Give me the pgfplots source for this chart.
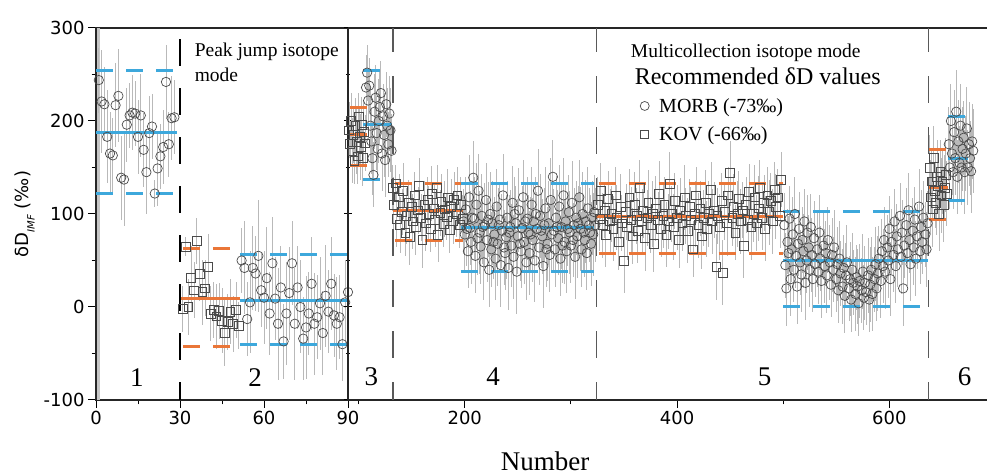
\documentclass[border=0pt]{standalone}
\usepackage{pgfplots}
\pgfplotsset{compat=1.18}
\usepackage{pgfplotstable}
\usepackage{fontspec}
\setmainfont{Liberation Serif}
\newfontfamily\tickfont{DejaVu Sans}
\definecolor{mblue}{HTML}{3DA8DC}
\definecolor{korange}{HTML}{EA7638}
\definecolor{mkgray}{HTML}{4A4A4A}

% ---------- left panel (0-90) ----------
\pgfplotstableread{
x y e
1 244 35
2 221 55
3 218 40
4 183 50
5 165 45
6 163 40
7 217 45
8 227 50
9 139 45
10 137 50
11 196 40
12 206 35
13 209 40
14 208 35
15 183 40
16 206 45
17 169 40
18 145 45
19 187 40
20 194 35
21 122 15
22 149 40
23 162 35
24 172 40
25 242 40
26 175 35
27 203 45
28 204 40
52 50 35
53 42 50
54 -13 40
55 5 55
56 42 45
57 36 40
58 55 60
59 18 40
60 10 50
61 31 55
62 -7 45
63 47 50
64 9 45
65 -18 60
66 21 45
67 -37 40
68 -7 55
69 15 50
70 47 45
71 -18 60
72 21 45
73 0 50
74 -34 45
75 -22 55
76 -7 45
77 25 50
78 -18 55
79 -11 45
80 4 50
81 -28 45
82 12 55
83 -5 45
84 25 50
85 -9 45
86 -18 50
87 -11 45
88 -40 40
89 5 45
90 16 35
}\morbL
\pgfplotstableread{
x y e
31 -2 25
32 65 10
33 0 30
34 31 35
35 18 30
36 71 25
37 36 30
38 16 35
39 20 30
40 43 35
41 -7 30
42 -3 30
43 -10 35
44 -4 30
45 -15 35
46 -28 35
47 -16 30
48 -5 35
49 -18 30
50 -3 30
51 -20 25
}\kovL

% ---------- right panel (90-692) ----------
\pgfplotstableread{
x y e
107 236 35
108 252 30
109 222 35
110 238 30
111 195 40
112 178 35
113 160 40
114 142 35
115 210 40
116 225 35
117 187 40
118 170 35
119 200 45
120 215 40
121 230 35
122 165 40
123 205 35
124 185 45
125 158 40
126 218 35
127 195 40
128 175 35
129 208 40
130 190 45
131 168 40
199 92 35
200 78 40
201 105 35
202 84 40
203 60 40
204 118 45
205 85 40
206 70 45
207 96 40
208 139 40
209 95 45
210 55 40
211 110 45
212 74 40
213 125 40
214 80 45
215 65 40
216 98 45
217 86 40
218 48 40
219 88 45
220 115 40
221 72 45
222 94 40
223 40 40
224 100 45
225 62 40
226 90 45
227 70 40
228 78 40
229 52 45
230 108 40
231 68 45
232 88 40
233 94 40
234 45 45
235 82 40
236 120 45
237 64 40
238 58 40
239 75 45
240 96 40
241 42 45
242 80 40
243 86 40
244 66 45
245 112 40
246 54 45
247 100 40
248 90 40
249 38 45
250 76 40
251 104 45
252 68 40
253 60 40
254 85 45
255 118 40
256 70 45
257 92 40
258 48 40
259 95 45
260 80 40
261 58 45
262 78 40
263 110 40
264 72 45
265 92 40
266 50 45
267 100 40
268 84 40
269 125 45
270 64 40
271 98 45
272 82 40
273 76 40
274 44 45
275 88 40
276 106 45
277 62 40
278 68 40
279 90 45
280 56 40
281 115 45
282 78 40
283 140 40
284 82 45
285 62 40
286 96 45
287 86 40
288 74 40
289 108 45
290 52 40
291 86 45
292 66 40
293 120 40
294 70 45
295 92 40
296 60 45
297 84 40
298 102 40
299 80 45
300 66 40
301 112 45
302 72 40
303 88 40
304 54 45
305 96 40
306 76 45
307 90 40
308 118 40
309 84 45
310 62 40
311 100 45
312 80 40
313 72 40
314 92 45
315 58 40
316 106 45
317 88 40
318 80 40
319 68 45
320 96 40
321 78 45
322 102 40
323 88 40
501 88 35
502 45 35
503 20 40
504 70 35
505 58 40
506 95 35
507 30 40
508 62 35
509 78 40
510 40 35
511 100 40
512 55 35
513 22 40
514 68 35
515 84 40
516 48 35
517 35 40
518 72 35
519 60 40
520 92 35
521 26 40
522 50 35
523 80 40
524 64 35
525 40 40
526 86 35
527 56 40
528 30 35
529 74 40
530 46 35
532 62 40
533 38 35
534 80 40
535 52 35
536 28 40
538 66 35
539 44 40
540 58 35
541 34 40
542 72 35
544 48 40
545 24 35
546 56 40
547 40 35
548 64 40
550 30 35
551 46 40
552 18 35
553 52 40
554 36 35
556 22 40
557 42 35
558 12 40
559 34 35
560 48 40
562 20 35
563 30 40
564 8 35
565 40 40
566 26 35
568 14 40
569 32 35
570 22 40
571 4 35
572 28 40
574 18 35
575 38 40
576 10 35
577 26 40
578 16 35
580 34 40
581 8 35
582 24 40
583 40 35
584 14 40
586 30 35
587 46 40
588 20 35
589 36 40
590 52 35
592 28 40
593 60 35
594 44 40
595 72 35
596 38 40
598 64 35
599 50 40
600 84 35
601 30 40
602 70 35
604 56 40
605 92 35
606 44 40
607 76 35
608 62 40
610 98 35
611 54 40
612 80 35
613 20 40
614 66 35
616 88 40
617 58 35
618 104 40
619 72 35
620 46 40
622 82 35
623 64 40
624 94 35
625 52 40
626 76 35
628 108 40
629 60 35
630 86 40
631 70 35
632 96 40
634 78 35
635 62 40
636 90 35
656 175 40
657 150 45
658 200 40
659 165 45
660 145 40
661 188 45
662 160 40
663 210 45
664 140 40
665 178 45
666 155 40
667 195 45
668 150 40
669 170 45
670 182 40
671 145 45
672 165 40
673 192 45
674 150 40
675 175 45
676 160 40
677 146 45
678 178 40
679 168 45
}\morbR
\pgfplotstableread{
x y e
91 190 30
92 175 25
93 200 30
94 168 35
95 185 30
96 157 25
97 195 30
98 178 35
99 162 30
100 205 25
101 183 30
102 172 35
103 196 30
104 160 30
105 188 35
106 176 30
132 128 25
133 110 30
135 133 20
136 95 30
138 118 25
139 88 30
141 102 25
142 125 30
144 80 25
145 98 30
147 112 25
148 75 30
150 108 25
151 92 30
153 120 25
154 86 30
156 104 25
157 130 30
159 96 25
160 72 30
162 110 25
163 90 30
165 115 25
166 100 30
168 84 25
169 122 30
171 106 25
172 94 30
174 128 25
175 78 30
177 101 25
178 113 30
180 89 25
181 105 30
183 97 25
184 118 30
186 83 25
187 108 30
189 93 25
190 115 30
192 100 25
193 120 30
195 88 25
196 110 30
198 95 25
325 110 30
327 95 35
328 125 30
330 88 35
332 104 30
333 78 35
335 116 30
337 92 35
338 100 30
340 84 35
342 120 30
343 96 35
345 70 30
347 108 35
348 90 30
350 50 35
352 102 30
353 86 35
355 118 30
357 94 35
358 76 30
360 110 35
362 98 30
363 82 35
365 128 30
367 92 35
368 104 30
370 74 35
372 96 30
373 112 35
375 88 30
377 100 35
378 68 30
380 106 35
382 94 30
383 122 35
385 84 30
387 98 35
388 110 30
390 78 35
392 92 30
393 132 35
395 100 30
397 86 35
398 114 30
400 96 35
402 72 30
403 104 35
405 90 30
407 118 35
408 98 30
410 82 35
412 108 30
413 94 35
415 62 30
417 100 35
418 120 30
420 88 35
422 106 30
423 76 35
425 96 30
427 112 35
428 84 30
430 100 35
432 126 30
433 92 35
435 104 30
437 43 35
438 98 30
440 86 35
442 114 30
443 37 35
445 102 30
447 90 35
448 120 30
450 144 35
452 96 30
453 108 35
455 80 30
457 100 35
458 116 30
460 92 35
462 104 30
463 66 35
465 110 30
467 94 35
468 124 30
470 86 35
472 100 30
473 118 35
475 90 30
477 106 35
478 128 30
480 96 35
482 112 30
483 84 35
485 120 30
487 102 35
488 114 30
490 92 35
492 126 30
493 108 35
495 118 30
497 98 35
498 137 30
638 150 35
639 118 40
640 135 35
641 105 40
642 160 35
643 125 40
644 112 35
645 140 40
646 130 35
647 100 40
648 145 35
649 120 40
650 135 35
651 110 40
652 128 35
653 142 40
654 122 35
}\kovR

\pgfplotsset{
  errstyle/.style={forget plot,
    error bars/y dir=both, error bars/y explicit, error bars/error mark=none,
    error bars/error bar style={gray!55, line width=0.9pt}},
  morb/.style={only marks, mark=o, mark size=4.7pt,
    mark options={draw=mkgray, line width=0.7pt}, errstyle},
  kov/.style={only marks, mark=square, mark size=4.4pt,
    mark options={draw=mkgray, line width=0.7pt}, errstyle},
  bl/.style={mblue, line width=3pt, forget plot},
  bld/.style={mblue, line width=3pt, dash pattern=on 17pt off 13pt, forget plot},
  ol/.style={korange, line width=3pt, forget plot},
  old/.style={korange, line width=3pt, dash pattern=on 17pt off 13pt, forget plot},
  common/.style={scale only axis, anchor=south west, height=372pt,
    ymin=-100, ymax=300,
    ytick={-100,0,100,200,300}, minor ytick={-50,50,150,250},
    major tick length=8pt, minor tick length=4.5pt,
    every tick/.style={black, line width=1pt},
    axis line style={black!85, line width=1.3pt},
    tick label style={font=\tickfont\fontsize{18}{18}\selectfont},
    /pgf/number format/assume math mode=true},
}

\begin{document}
\begin{tikzpicture}
\useasboundingbox (0,0) rectangle (987pt,476pt);
\begin{axis}[common,
  at={(96pt,76pt)}, width=252pt,
  xmin=0, xmax=90,
  xtick={0,30,60,90}, minor xtick={15,45,75},
  xtick pos=left, ytick pos=left, tick align=outside,
  ylabel={\tickfont\fontsize{18}{20}\selectfont δD\raisebox{-0.35em}{\fontsize{10}{10}\selectfont\itshape IMF} (‰)},
  ylabel style={yshift=2pt},
]
\draw[gray!45, line width=3pt] (axis cs:0.9,-100) -- (axis cs:0.9,300);
\addplot[morb] table[x=x, y=y, y error=e] {\morbL};
\addplot[kov] table[x=x, y=y, y error=e] {\kovL};
% region 1 MORB
\addplot[bl] coordinates {(0,188) (29,188)};
\addplot[bld] coordinates {(0,254) (29,254)};
\addplot[bld] coordinates {(0,122) (29,122)};
% region 2 KOV
\addplot[ol] coordinates {(30,9.5) (51.4,9.5)};
\addplot[old] coordinates {(31,63) (51.4,63)};
\addplot[old] coordinates {(31,-42.5) (51.4,-42.5)};
% region 2 MORB
\addplot[bl] coordinates {(51.4,7.5) (90,7.5)};
\addplot[bld] coordinates {(51.4,56) (90,56)};
\addplot[bld] coordinates {(51.4,-40) (90,-40)};
\draw[black, line width=1.3pt, dash pattern=on 27pt off 22pt, dash phase=9pt] (axis cs:30,-100) -- (axis cs:30,300);
\node[anchor=north west, inner sep=0pt, align=left, font=\fontsize{19.5}{25}\selectfont] at (axis cs:35.2,284) {Peak jump isotope\\mode};
\node[anchor=base, font=\fontsize{27}{30}\selectfont] at (axis cs:14.6,-85.5) {1};
\node[anchor=base, font=\fontsize{27}{30}\selectfont] at (axis cs:56.8,-85.5) {2};
\end{axis}

\begin{axis}[common,
  at={(348pt,76pt)}, width=639pt,
  xmin=90, xmax=692,
  axis x line*=box, axis y line*=left,
  xtick={200,400,600}, minor xtick={100,300,500},
  yticklabels={,,,,,},
  xtick pos=left, ytick pos=left,
  xtick align=outside, ytick align=center,
  legend style={at={(0.4570,0.817)}, anchor=north west, draw=none, fill=none,
    font=\fontsize{20}{22}\selectfont, row sep=9pt, inner sep=0pt},
  legend cell align=left,
]
\addplot[morb] table[x=x, y=y, y error=e] {\morbR};
\addplot[kov] table[x=x, y=y, y error=e] {\kovR};
% region 3
\addplot[ol] coordinates {(92,185) (108,185)};
\addplot[old] coordinates {(92,215) (108,215)};
\addplot[old] coordinates {(92,152) (108,152)};
\addplot[bl] coordinates {(104,196) (131,196)};
\addplot[bld] coordinates {(104,254) (131,254)};
\addplot[bld] coordinates {(104,137) (131,137)};
% region 4
\addplot[ol] coordinates {(132,104) (198,104)};
\addplot[old] coordinates {(134,133) (198,133)};
\addplot[old] coordinates {(134,72) (198,72)};
\addplot[bl] coordinates {(196,86) (322,86)};
\addplot[bld] coordinates {(196,133) (322,133)};
\addplot[bld] coordinates {(196,38) (322,38)};
% region 5
\addplot[ol] coordinates {(324,97) (500,97)};
\addplot[old] coordinates {(326,133) (500,133)};
\addplot[old] coordinates {(326,58) (500,58)};
\addplot[bl] coordinates {(500,50.5) (636,50.5)};
\addplot[bld] coordinates {(500,102.5) (636,102.5)};
\addplot[bld] coordinates {(500,0.3) (636,0.3)};
% region 6
\addplot[ol] coordinates {(637,129) (655,129)};
\addplot[old] coordinates {(637,169) (655,169)};
\addplot[old] coordinates {(637,94) (655,94)};
\addplot[bl] coordinates {(655,160) (674,160)};
\addplot[bld] coordinates {(655,205) (674,205)};
\addplot[bld] coordinates {(655,115) (674,115)};
\foreach \xx in {132.5,324,637}{
  \edef\tmp{\noexpand\draw[black!65, line width=1.3pt, dash pattern=on 27pt off 24pt, dash phase=9pt] (axis cs:\xx,-100) -- (axis cs:\xx,300);}\tmp
}
\node[anchor=base west, inner sep=0pt, font=\fontsize{19.5}{24}\selectfont] at (axis cs:356.4,268) {Multicollection isotope mode};
\node[anchor=base west, inner sep=0pt, font=\fontsize{24}{28}\selectfont] at (axis cs:360,239) {Recommended δD values};
\node[anchor=base, font=\fontsize{27}{30}\selectfont] at (axis cs:112.1,-84.5) {3};
\node[anchor=base, font=\fontsize{27}{30}\selectfont] at (axis cs:226.7,-84.5) {4};
\node[anchor=base, font=\fontsize{27}{30}\selectfont] at (axis cs:482.6,-84.5) {5};
\node[anchor=base, font=\fontsize{27}{30}\selectfont] at (axis cs:671,-84.5) {6};
\addlegendimage{only marks, mark=o, mark size=4.5pt, mark options={draw=mkgray, line width=0.7pt}}
\addlegendentry{\hspace{8pt}MORB (-73‰)}
\addlegendimage{only marks, mark=square, mark size=4pt, mark options={draw=mkgray, line width=0.7pt}}
\addlegendentry{\hspace{8pt}KOV (-66‰)}
\end{axis}
\node[anchor=base, inner sep=0pt, font=\fontsize{27}{30}\selectfont] at (545pt,5pt) {Number};
\end{tikzpicture}
\end{document}
